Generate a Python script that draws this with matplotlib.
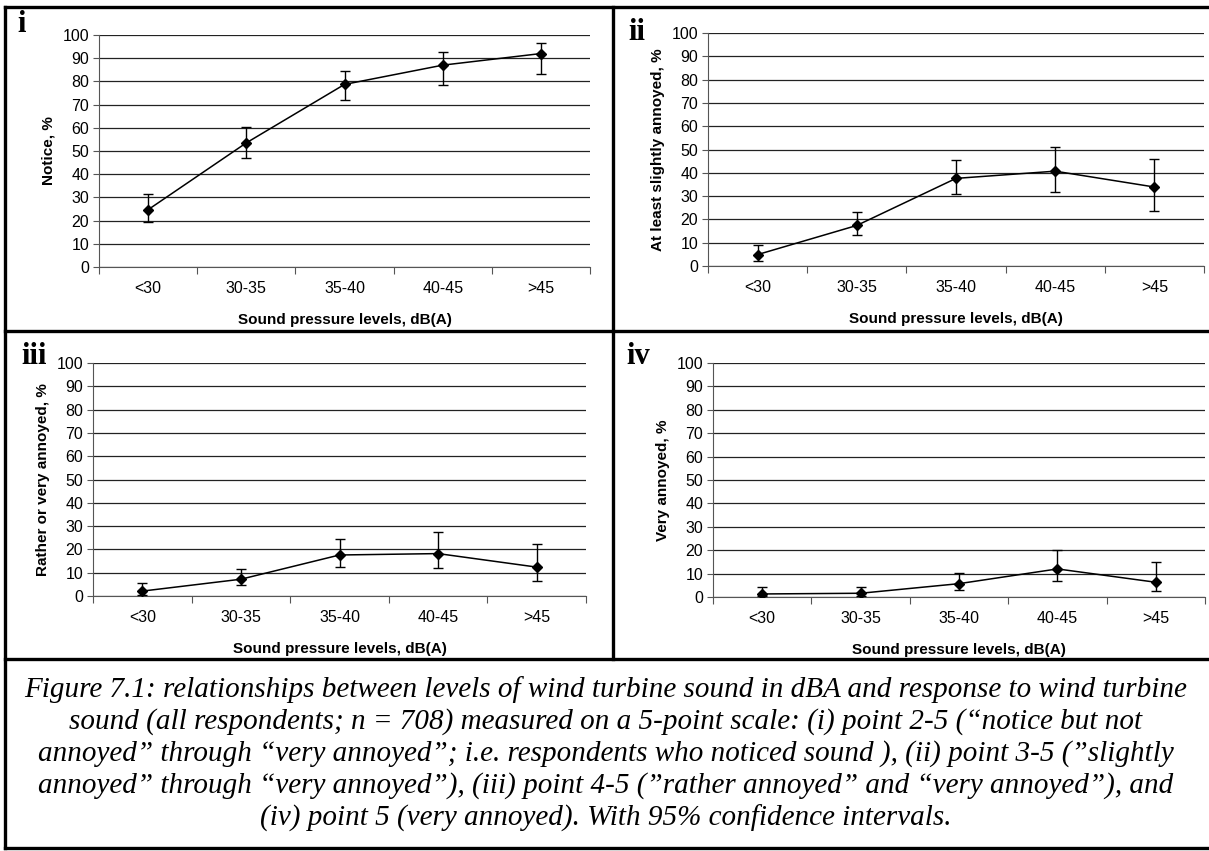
import matplotlib
matplotlib.use('Agg')
import matplotlib.pyplot as plt
from matplotlib.lines import Line2D

# categories of sound level
levels = ['<30', '30-35', '35-40', '40-45', '>45']

# (i) notice
notice = [24.7, 53.5, 78.7, 87.0, 92.0]
notice_lo = [19.3, 46.8, 71.9, 78.6, 83.3]
notice_hi = [31.5, 60.3, 84.3, 92.7, 96.7]

# (ii) at least slightly annoyed
slightly = [4.9, 17.4, 37.6, 40.7, 33.9]
slightly_lo = [2.2, 13.1, 31.0, 31.6, 23.5]
slightly_hi = [8.9, 23.0, 45.5, 51.0, 45.8]

# (iii) rather or very annoyed
rather = [2.1, 7.2, 17.6, 18.2, 12.4]
rather_lo = [0.6, 4.7, 12.3, 11.9, 6.3]
rather_hi = [5.7, 11.7, 24.5, 27.5, 22.3]

# (iv) very annoyed
very = [1.3, 1.6, 5.7, 12.0, 6.3]
very_lo = [0.3, 0.6, 3.1, 6.8, 2.6]
very_hi = [4.3, 4.3, 10.4, 20.2, 15.0]

caption_lines = [
    'Figure 7.1: relationships between levels of wind turbine sound in dBA and response to wind turbine',
    'sound (all respondents; n = 708) measured on a 5-point scale: (i) point 2-5 (\u201cnotice but not',
    'annoyed\u201d through \u201cvery annoyed\u201d; i.e. respondents who noticed sound ), (ii) point 3-5 (\u201dslightly',
    'annoyed\u201d through \u201cvery annoyed\u201d), (iii) point 4-5 (\u201drather annoyed\u201d and \u201cvery annoyed\u201d), and',
    '(iv) point 5 (very annoyed). With 95% confidence intervals.',
]

W, H = 1209, 851
fig = plt.figure(figsize=(W / 100, H / 100), dpi=100)
sans = 'Liberation Sans'
serif = 'Liberation Serif'


def box(left, right, top, bottom):
    # pixel box -> figure fraction rect
    return [left / W, 1 - bottom / H, (right - left) / W, (bottom - top) / H]


panels = [
    (box(99, 590, 35, 267), notice, notice_lo, notice_hi, 'Notice, %', 'i', (22, 25)),
    (box(708, 1204, 33, 266), slightly, slightly_lo, slightly_hi, 'At least slightly annoyed, %', 'ii', (637, 32)),
    (box(93, 586, 363, 596), rather, rather_lo, rather_hi, 'Rather or very annoyed, %', 'iii', (34, 357)),
    (box(713, 1205, 363, 597), very, very_lo, very_hi, 'Very annoyed, %', 'iv', (638, 357)),
]

x = list(range(len(levels)))
for rect, vals, lo, hi, ylab, tag, tpos in panels:
    ax = fig.add_axes(rect)
    yerr = [[v - l for v, l in zip(vals, lo)], [h - v for v, h in zip(vals, hi)]]
    ax.errorbar(x, vals, yerr=yerr, color='black', lw=1.1, marker='D', markersize=5,
                capsize=3.8, elinewidth=1.0, capthick=1.0, zorder=3)
    ax.set_ylim(0, 100)
    ax.set_xlim(-0.5, len(levels) - 0.5)
    ax.set_yticks(range(0, 101, 10))
    ax.yaxis.grid(True, color='#222222', lw=0.9)
    ax.set_axisbelow(True)
    for s in ['top', 'right']:
        ax.spines[s].set_visible(False)
    ax.spines['left'].set_color('#555555')
    ax.spines['bottom'].set_color('#555555')
    ax.set_xticks([i - 0.5 for i in range(len(levels) + 1)])
    ax.set_xticklabels([])
    ax.set_xticks(x, minor=True)
    ax.set_xticklabels(levels, minor=True, fontfamily=sans, fontsize=11.5)
    ax.tick_params(axis='x', which='major', length=5, color='#555555')
    ax.tick_params(axis='x', which='minor', length=0, pad=10)
    ax.tick_params(axis='y', length=4, color='#555555', labelsize=11.5, pad=3)
    for lab in ax.get_yticklabels():
        lab.set_fontfamily(sans)
    ax.set_xlabel('Sound pressure levels, dB(A)', fontfamily=sans, fontsize=11,
                  fontweight='bold', labelpad=12.5)
    ax.set_ylabel(ylab, fontfamily=sans, fontsize=11, fontweight='bold', labelpad=5)
    fig.text(tpos[0] / W, 1 - tpos[1] / H, tag, fontfamily=serif, fontweight='bold',
             fontsize=22, ha='center', va='center')

# table borders around panels and caption
border = dict(color='black', lw=2.4)
for xs, ys in [
    ((5, 1209), (7, 7)),
    ((5, 1209), (331, 331)),
    ((5, 1209), (659, 659)),
    ((5, 1209), (848, 848)),
    ((5, 5), (7, 848)),
    ((613, 613), (7, 659)),
]:
    fig.add_artist(Line2D([v / W for v in xs], [1 - v / H for v in ys], **border))

for i, line in enumerate(caption_lines):
    fig.text(606 / W, 1 - (690 + 32 * i) / H, line, fontfamily=serif, style='italic',
             fontsize=21, ha='center', va='center')

fig.savefig('out.png', dpi=100)
